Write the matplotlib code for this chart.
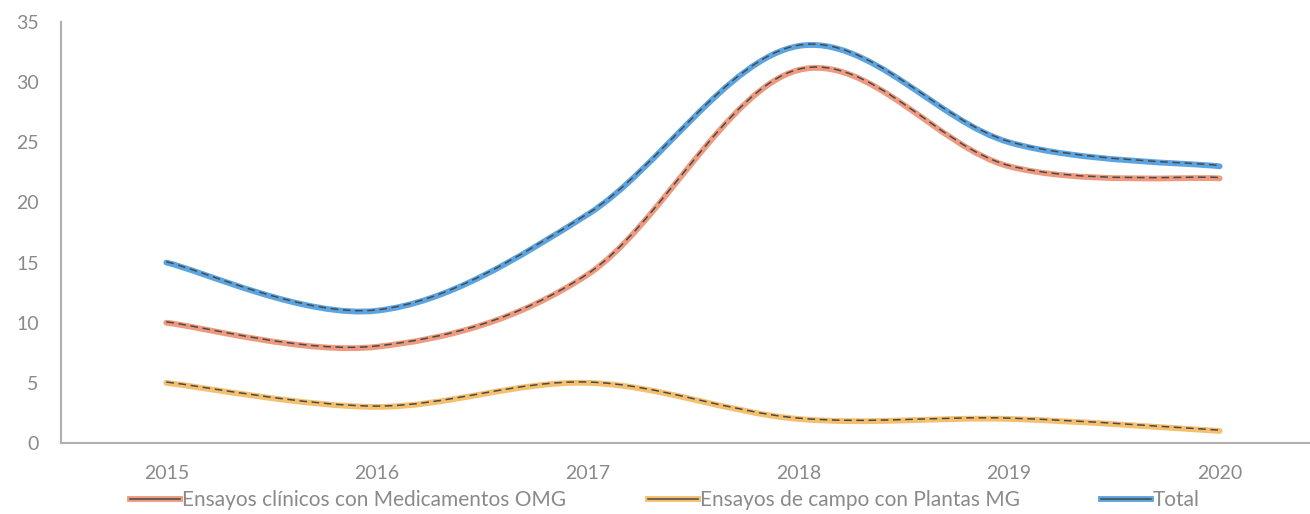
import numpy as np
import matplotlib
matplotlib.use("Agg")
import matplotlib.pyplot as plt
from matplotlib.path import Path
from matplotlib.patches import PathPatch
from matplotlib.lines import Line2D
import matplotlib.transforms as mtransforms

plt.rcParams['font.family'] = ['Lato', 'DejaVu Sans']

# data
years = ['2015', '2016', '2017', '2018', '2019', '2020']
clinicos = [10, 8, 14, 31, 23, 22]
campo = [5, 3, 5, 2, 2, 1]
total = [15, 11, 19, 33, 25, 23]

labels = ['Ensayos clínicos con Medicamentos OMG',
          'Ensayos de campo con Plantas MG',
          'Total']
colors = ['#EE9A7E', '#F4C06E', '#5BA4E2']


def smooth_path(xs, ys):
    # excel-like smoothed line: cubic bezier through the points
    pts = np.column_stack([xs, ys]).astype(float)
    ext = np.vstack([pts[0], pts, pts[-1]])
    verts = [pts[0]]
    codes = [Path.MOVETO]
    for i in range(len(pts) - 1):
        p0, p1, p2, p3 = ext[i], ext[i + 1], ext[i + 2], ext[i + 3]
        c1 = p1 + (p2 - p0) / 6.0
        c2 = p2 - (p3 - p1) / 6.0
        verts += [c1, c2, p2]
        codes += [Path.CURVE4] * 3
    return Path(verts, codes)


fig = plt.figure(figsize=(13.1, 5.14), dpi=100)
ax = fig.add_axes([61 / 1310, 71 / 514, 1264 / 1310, 421 / 514])

x = np.arange(len(years))
dark_off = mtransforms.offset_copy(ax.transData, fig=fig, x=0, y=0.6, units='points')
for ys, c in zip([clinicos, campo, total], colors):
    p = smooth_path(x, ys)
    ax.add_patch(PathPatch(p, fill=False, edgecolor=c, lw=4.2,
                           capstyle='round', joinstyle='round', zorder=2))
    ax.add_patch(PathPatch(p, fill=False, edgecolor='#4a4a4a', lw=1.1,
                           linestyle=(0, (5, 3)), transform=dark_off, zorder=3))

ax.set_xlim(-0.5, 5.5)
ax.set_ylim(0, 35)
ax.set_xticks(x)
ax.set_xticklabels(years)
ax.set_yticks(range(0, 36, 5))
ax.tick_params(length=0, labelsize=14, labelcolor='#8a8a8a')
ax.tick_params(axis='y', pad=16)
ax.tick_params(axis='x', pad=16)
for s in ['top', 'right']:
    ax.spines[s].set_visible(False)
for s in ['left', 'bottom']:
    ax.spines[s].set_color('#b0b0b0')
    ax.spines[s].set_linewidth(1.5)

handles = []
for c in colors:
    handles.append((Line2D([], [], color=c, lw=4.2),
                    Line2D([], [], color='#4a4a4a', lw=1.1)))
fig.legend(handles, labels, loc='center', bbox_to_anchor=(665 / 1310, 14 / 514),
           ncol=3, frameon=False, fontsize=15, labelcolor='#8a8a8a',
           handlelength=2.4, handletextpad=0.1, columnspacing=3.9)

fig.savefig('out.png', dpi=100, facecolor='white')
